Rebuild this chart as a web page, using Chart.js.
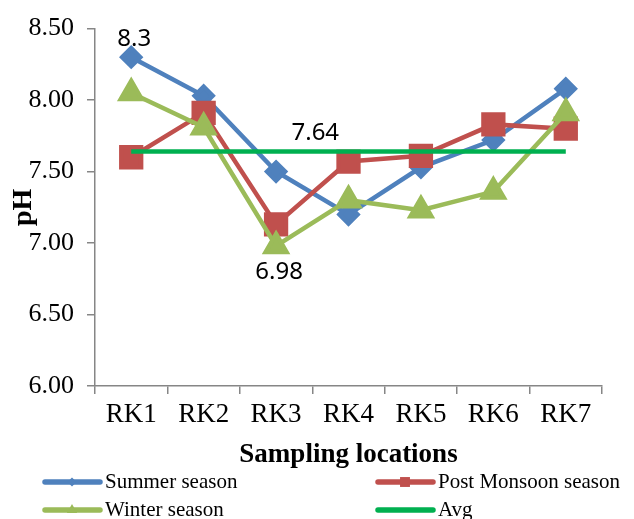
<!DOCTYPE html>
<html>
<head>
<meta charset="utf-8">
<script src="https://cdn.jsdelivr.net/npm/chart.js@4"></script>
<style>
  html, body { margin: 0; padding: 0; background: #fff; }
  #wrap { width: 634px; height: 519px; }
</style>
</head>
<body>
<div id="wrap"><canvas id="phChart" width="634" height="519"></canvas></div>
<script>
// sampling sites
var locations = ['RK1', 'RK2', 'RK3', 'RK4', 'RK5', 'RK6', 'RK7'];

// pH per season
var summer = [8.30, 8.03, 7.50, 7.20, 7.53, 7.72, 8.08];
var postMonsoon = [7.60, 7.91, 7.13, 7.57, 7.61, 7.83, 7.80];
var winter = [8.05, 7.81, 6.98, 7.30, 7.23, 7.36, 7.91];
var avg = [7.64, 7.64, 7.64, 7.64, 7.64, 7.64, 7.64];

var yTicks = [6.00, 6.50, 7.00, 7.50, 8.00, 8.50];

var serif = '"Liberation Serif", "Times New Roman", serif';

// labels shown on the plot: dataset index, point index (or between two), place
var pointLabels = [
  { ds: 0, idx: 0, text: '8.3', pos: 'above' },
  { ds: 3, idx: 2.5, text: '7.64', pos: 'above' },
  { ds: 2, idx: 2, text: '6.98', pos: 'below' }
];

var labelPlugin = {
  id: 'labelPlugin',
  afterDatasetsDraw: function(chart) {
    var ctx = chart.ctx;
    var xs = chart.scales.x, ys = chart.scales.y;
    ctx.save();
    ctx.font = '24px "Noto Sans", sans-serif';
    ctx.fillStyle = '#000';
    ctx.textAlign = 'center';
    pointLabels.forEach(function(l) {
      var data = chart.data.datasets[l.ds].data;
      var v = data[Math.floor(l.idx)];
      var x = xs.getPixelForValue(l.idx);
      var y = ys.getPixelForValue(v);
      if (l.pos == 'above') {
        ctx.textBaseline = 'bottom';
        ctx.fillText(l.text, x + 3, y - 6);
      } else {
        ctx.textBaseline = 'top';
        ctx.fillText(l.text, x + 3, y + 14);
      }
    });
    ctx.restore();
  }
};

// two-column legend under the axis title
var legendPlugin = {
  id: 'legendPlugin',
  afterDraw: function(chart) {
    var ctx = chart.ctx;
    var sets = chart.data.datasets;
    var colX = [45, 378];
    var rowY = [chart.height - 37, chart.height - 9];
    ctx.save();
    ctx.font = '21px ' + serif;
    ctx.textBaseline = 'middle';
    ctx.textAlign = 'left';
    for (var i = 0; i < sets.length; i++) {
      var ds = sets[i];
      var x = colX[i % 2], y = rowY[Math.floor(i / 2)];
      ctx.strokeStyle = ds.borderColor;
      ctx.lineWidth = 5.5;
      ctx.lineCap = 'round';
      ctx.beginPath();
      ctx.moveTo(x, y);
      ctx.lineTo(x + 55, y);
      ctx.stroke();
      if (ds.pointRadius > 0) {
        ctx.fillStyle = ds.pointBackgroundColor;
        Chart.helpers.drawPoint(ctx, {
          pointStyle: ds.pointStyle,
          radius: ds.pointRadius * 0.5,
          rotation: 0,
          borderWidth: 0
        }, x + 27, y);
      }
      ctx.fillStyle = '#000';
      ctx.fillText(ds.label, x + 60, y);
    }
    ctx.restore();
  }
};

new Chart(document.getElementById('phChart'), {
  type: 'line',
  data: {
    labels: locations,
    datasets: [
      {
        label: 'Summer season', data: summer, order: 4,
        borderColor: '#4F81BD', backgroundColor: '#4F81BD',
        pointBackgroundColor: '#4F81BD', pointBorderColor: '#4F81BD',
        pointStyle: 'rectRot', pointRadius: 9, borderWidth: 4.5
      },
      {
        label: 'Post Monsoon season', data: postMonsoon, order: 3,
        borderColor: '#C0504D', backgroundColor: '#C0504D',
        pointBackgroundColor: '#C0504D', pointBorderColor: '#C0504D',
        pointStyle: 'rect', pointRadius: 14, borderWidth: 4.5
      },
      {
        label: 'Winter season', data: winter, order: 2,
        borderColor: '#9BBB59', backgroundColor: '#9BBB59',
        pointBackgroundColor: '#9BBB59', pointBorderColor: '#9BBB59',
        pointStyle: 'triangle', pointRadius: 12, borderWidth: 4.5
      },
      {
        label: 'Avg', data: avg, order: 1,
        borderColor: '#00B050', backgroundColor: '#00B050',
        pointBackgroundColor: '#00B050',
        pointRadius: 0, borderWidth: 4.5
      }
    ]
  },
  options: {
    responsive: false,
    animation: false,
    layout: { padding: { top: 23, right: 32, bottom: 48, left: 0 } },
    plugins: {
      legend: { display: false },
      tooltip: { enabled: false }
    },
    elements: { line: { tension: 0 }, point: { borderWidth: 0 } },
    scales: {
      x: {
        offset: true,
        grid: { offset: true, drawOnChartArea: false, tickLength: 8, color: '#868686', lineWidth: 1.5 },
        border: { color: '#868686', width: 1.5 },
        ticks: { font: { family: serif, size: 27 }, color: '#000', padding: 5, maxRotation: 0 },
        title: { display: true, text: 'Sampling locations', color: '#000',
                 font: { family: serif, size: 27, weight: 'bold' }, padding: { top: 0, bottom: 0 } },
        afterFit: function(s) { s.height = 85; }
      },
      y: {
        min: 6, max: 8.5,
        afterBuildTicks: function(s) { s.ticks = yTicks.map(function(v) { return { value: v }; }); },
        grid: { drawOnChartArea: false, tickLength: 8, color: '#868686', lineWidth: 1.5 },
        border: { color: '#868686', width: 1.5 },
        ticks: { font: { family: serif, size: 26 }, color: '#000', padding: 13,
                 callback: function(v) { return Number(v).toFixed(2); } },
        title: { display: true, text: 'pH', color: '#000',
                 font: { family: serif, size: 28, weight: 'bold' }, padding: { top: 7, bottom: 0 } },
        afterFit: function(s) { s.width = 95; }
      }
    }
  },
  plugins: [labelPlugin, legendPlugin]
});
</script>
</body>
</html>
